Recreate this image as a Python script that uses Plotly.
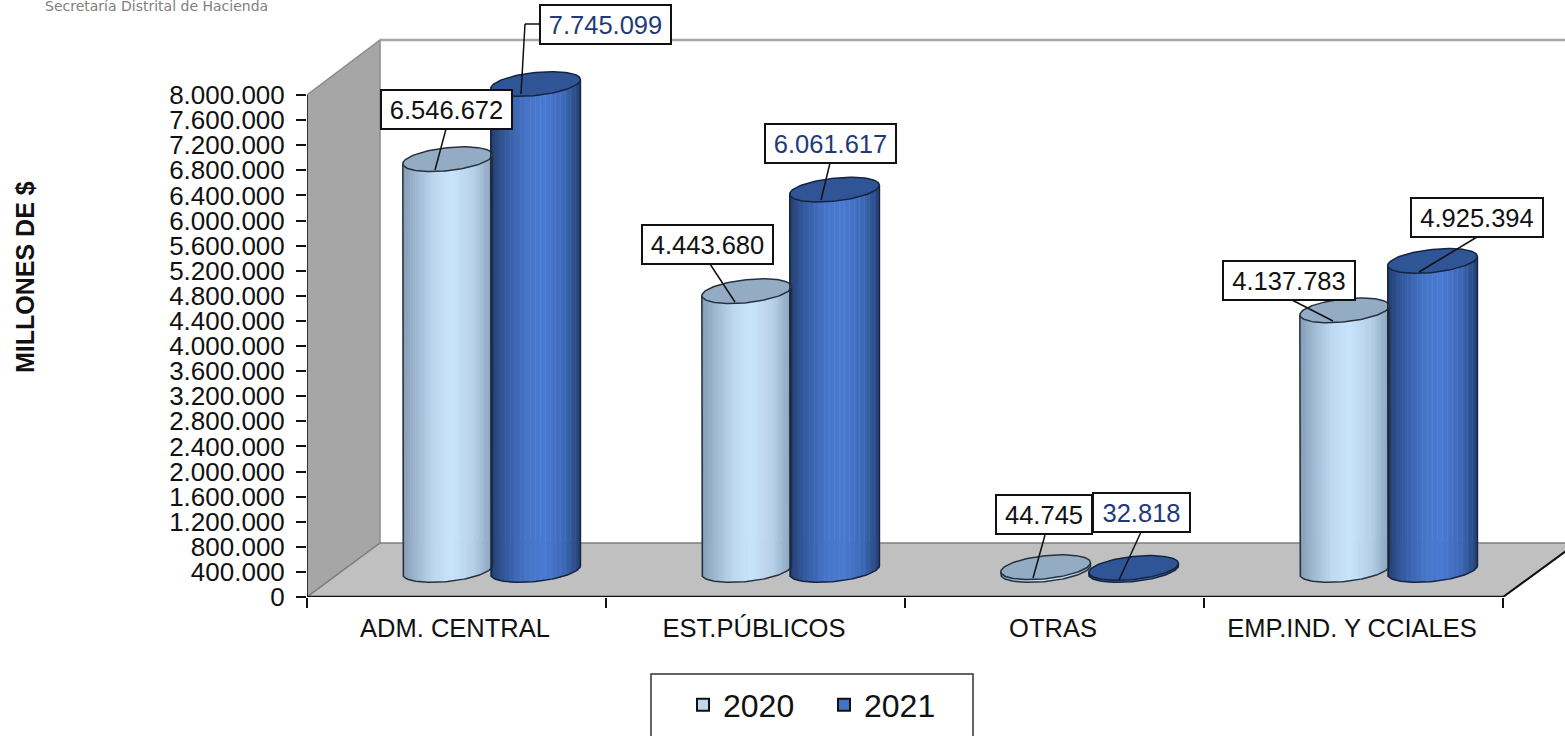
import math
import plotly.graph_objects as go

categories = ["ADM. CENTRAL", "EST.PÚBLICOS", "OTRAS", "EMP.IND. Y CCIALES"]
values_2020 = [6546672, 4443680, 44745, 4137783]
values_2021 = [7745099, 6061617, 32818, 4925394]
y_ticks = list(range(0, 8000001, 400000))

W, H = 1565, 736
X0, Y0, CAT_PX, PX_PER_UNIT = 307, 597, 299, 502 / 8000000

def dots(v):
    return f"{v:,}".replace(",", ".")

def dx(p):   # pixel column -> x data
    return (p - X0) / CAT_PX

def dy(p):   # pixel row -> y data
    return (Y0 - p) / PX_PER_UNIT

def hy(p):   # pixel length -> y data length
    return p / PX_PER_UNIT

DEPTH = hy(27)
GROUP = 0.6175
OFFSET = 0.147
HW = 0.15
B = hy(11.5)
TILT = hy(4.5)
N = 36

def lerp_stops(stops, t):
    for (a, ca), (b, cb) in zip(stops, stops[1:]):
        if a <= t <= b:
            f = (t - a) / (b - a)
            return "rgb(%d,%d,%d)" % tuple(round(ca[i] + (cb[i] - ca[i]) * f) for i in range(3))
    return "rgb(%d,%d,%d)" % stops[-1][1]

GRAD_2020 = [(-1, (130, 155, 180)), (-0.75, (155, 180, 205)), (-0.3, (190, 215, 240)), (0.1, (200, 228, 253)),
             (0.6, (182, 207, 232)), (1, (135, 160, 188))]
GRAD_2021 = [(-1, (35, 62, 110)), (-0.7, (50, 88, 155)), (-0.2, (70, 116, 200)), (0.2, (74, 122, 210)),
             (0.65, (60, 104, 182)), (1, (36, 64, 115))]

fig = go.Figure()

def cylinder(name, values, sign, grad):
    xs, ys, bases, cols = [], [], [], []
    w = 2 * HW / N * 1.2
    for c, v in enumerate(values):
        cx = c + GROUP + sign * OFFSET
        for i in range(N):
            t = -1 + (2 * i + 1) / N
            lo = DEPTH + TILT * t - B * math.sqrt(1 - t * t)
            hi = DEPTH + v + TILT * t
            xs.append(cx + t * HW)
            ys.append(hi - lo)
            bases.append(lo)
            cols.append(lerp_stops(grad, t))
    fig.add_trace(go.Bar(x=xs, y=ys, base=bases, width=w, name=name, showlegend=False,
                         marker=dict(color=cols, line=dict(width=0)), hoverinfo="skip"))

def cylinder_lines(values, sign, top_color, edge):
    for c, v in enumerate(values):
        cx = c + GROUP + sign * OFFSET
        # body outline
        px_, py_ = [cx - HW], [DEPTH + v - TILT]
        for k in range(0, 61):
            a = math.pi * k / 60
            px_.append(cx - HW * math.cos(a))
            py_.append(DEPTH - TILT * math.cos(a) - B * math.sin(a))
        px_.append(cx + HW)
        py_.append(DEPTH + v + TILT)
        fig.add_trace(go.Scatter(x=px_, y=py_, mode="lines", line=dict(color=edge, width=1.5),
                                 showlegend=False, hoverinfo="skip"))
        # top ellipse
        ex, ey = [], []
        for k in range(0, 121):
            a = 2 * math.pi * k / 120
            ex.append(cx + HW * math.cos(a))
            ey.append(DEPTH + v + TILT * math.cos(a) + B * math.sin(a))
        fig.add_trace(go.Scatter(x=ex, y=ey, mode="lines", fill="toself", fillcolor=top_color,
                                 line=dict(color=edge, width=1.5), showlegend=False, hoverinfo="skip"))

cylinder("2020", values_2020, -1, GRAD_2020)
cylinder("2021", values_2021, 1, GRAD_2021)
cylinder_lines(values_2020, -1, "#93ACC3", "#27313D")
cylinder_lines(values_2021, 1, "#2F5597", "#14233F")

# legend entries
fig.add_trace(go.Scatter(x=[None], y=[None], mode="markers", name="2020",
                         marker=dict(symbol="square", size=16, color="#BDD7EE", line=dict(color="#111", width=2))))
fig.add_trace(go.Scatter(x=[None], y=[None], mode="markers", name="2021",
                         marker=dict(symbol="square", size=16, color="#4472C4", line=dict(color="#111", width=2))))

def poly(points):
    return "M " + " L ".join(f"{dx(a)},{dy(b)}" for a, b in points) + " Z"

shapes = [
    dict(type="path", path=poly([(307, 597), (307, 95), (380, 40), (380, 543)]), fillcolor="#A6A6A6",
         line=dict(color="#8C8C8C", width=1.5), layer="below"),
    dict(type="path", path=poly([(307, 597), (380, 543), (1577, 543), (1503, 597)]), fillcolor="#C0C0C0",
         line=dict(color="#7F7F7F", width=1.5), layer="below"),
    dict(type="line", x0=dx(380), x1=dx(1565), y0=dy(40), y1=dy(40), line=dict(color="#A6A6A6", width=2.5), layer="below"),
    dict(type="line", x0=dx(307), x1=dx(1503), y0=dy(597), y1=dy(597), line=dict(color="#111", width=2.5)),
    dict(type="line", x0=dx(1503), x1=dx(1577), y0=dy(597), y1=dy(543), line=dict(color="#111", width=2)),
    dict(type="line", x0=dx(307), x1=dx(307), y0=dy(597), y1=dy(95), line=dict(color="#111", width=1.5)),
]
for s in shapes:
    s.update(xref="x", yref="y")

# leader lines (pixel positions of the callouts)
leaders = [
    [(446, 129), (435, 170)],
    [(539, 24), (525, 24), (521, 94)],
    [(710, 264), (735, 302)],
    [(830, 163), (821, 200)],
    [(1045, 535), (1033, 578)],
    [(1141, 532), (1119, 580)],
    [(1290, 299), (1333, 321)],
    [(1477, 237), (1419, 272)],
]
for seg in leaders:
    for (a, b), (c, d) in zip(seg, seg[1:]):
        shapes.append(dict(type="line", xref="x", yref="y", x0=dx(a), y0=dy(b), x1=dx(c), y1=dy(d),
                           line=dict(color="#111", width=1.5)))

# legend frame
shapes.append(dict(type="rect", xref="paper", yref="paper", x0=651 / W, x1=973 / W, y0=-0.02, y1=1 - 674 / H,
                   fillcolor="white", line=dict(color="#333", width=1.5), layer="below"))

NAVY = "#1F3A7A"
boxes = [
    (values_2020[0], 446, 109, 133, "#111"),
    (values_2021[0], 605, 24, 133, NAVY),
    (values_2020[1], 707, 244, 133, "#111"),
    (values_2021[1], 830, 143, 133, NAVY),
    (values_2020[2], 1044, 514, 98, "#111"),
    (values_2021[2], 1141, 512, 99, NAVY),
    (values_2020[3], 1289, 280, 134, "#111"),
    (values_2021[3], 1477, 217, 134, "#111"),
]
annotations = [
    dict(xref="paper", yref="paper", x=a / W, y=1 - b / H, text=dots(v), showarrow=False, width=w - 4, height=37,
         xanchor="center", yanchor="middle", bgcolor="white", bordercolor="#111", borderwidth=2, borderpad=0,
         font=dict(color=col, size=25.5))
    for v, a, b, w, col in boxes
]
annotations.append(dict(xref="paper", yref="paper", x=25 / W, y=1 - 277 / H, text="<b>MILLONES DE $</b>", textangle=-90,
                        showarrow=False, xanchor="center", yanchor="middle", font=dict(size=25, color="#111")))
annotations.append(dict(xref="paper", yref="paper", x=156 / W, y=1 - 6 / H, text="Secretaría Distrital de Hacienda",
                        showarrow=False, xanchor="center", yanchor="middle",
                        font=dict(family="DejaVu Sans", size=14, color="#808080")))

fig.update_layout(
    width=W, height=H, margin=dict(l=0, r=0, t=0, b=0, autoexpand=False), paper_bgcolor="white", plot_bgcolor="white",
    barmode="overlay", font=dict(family="Liberation Sans, Arial, sans-serif", color="#111"),
    shapes=shapes, annotations=annotations,
    legend=dict(orientation="h", x=824 / W, y=1 - 705 / H, xanchor="center", yanchor="middle",
                font=dict(size=32), bgcolor="rgba(0,0,0,0)", entrywidth=96, itemsizing="constant", traceorder="normal"),
    xaxis=dict(domain=[X0 / W, 1], range=[0, dx(W)], showgrid=False, zeroline=False, showline=False, automargin=False,
               tickmode="array", tickvals=[i + 0.495 for i in range(len(categories))], ticktext=categories,
               ticks="", tickfont=dict(size=25.5), ticklabelstandoff=13,
               minor=dict(tickmode="array", tickvals=list(range(len(categories) + 1)), ticks="outside",
                          ticklen=10, tickcolor="#111", tickwidth=1.5, showgrid=False)),
    yaxis=dict(domain=[(H - Y0) / H, 1], range=[0, dy(0)], showgrid=False, zeroline=False, showline=False, automargin=False,
               tickmode="array", tickvals=y_ticks, ticktext=[dots(v) for v in y_ticks],
               ticks="outside", ticklen=10, tickcolor="#111", tickwidth=1.5, tickfont=dict(size=26), ticklabelstandoff=6),
)

fig.write_html("out.html", config=dict(displayModeBar=False), post_script="document.body.style.margin='0';")
